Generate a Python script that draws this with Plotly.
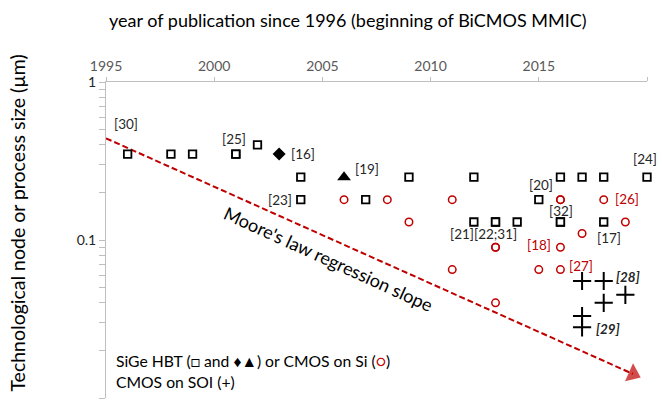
import math
import plotly.graph_objects as go

# ---------------- data ----------------
sq_years = [1996, 1998, 1999, 2001, 2001, 2002, 2004, 2004, 2007, 2009, 2012, 2012,
            2013, 2013, 2014, 2015, 2016, 2016, 2016, 2017, 2018, 2018, 2020]
sq_vals = [0.35, 0.35, 0.35, 0.35, 0.35, 0.40, 0.25, 0.18, 0.18, 0.25, 0.25, 0.13,
           0.13, 0.13, 0.13, 0.18, 0.25, 0.13, 0.13, 0.25, 0.25, 0.13, 0.25]

dia_years = [2003]
dia_vals = [0.35]

tri_years = [2006]
tri_vals = [0.25]

circ_years = [2006, 2008, 2011, 2016, 2016, 2018, 2009, 2019, 2017,
              2013, 2013, 2016, 2011, 2015, 2016, 2013]
circ_vals = [0.18, 0.18, 0.18, 0.18, 0.18, 0.18, 0.13, 0.13, 0.11,
             0.09, 0.09, 0.09, 0.065, 0.065, 0.065, 0.04]

plus_years = [2017, 2018, 2019, 2018, 2017, 2017]
plus_vals = [0.055, 0.055, 0.045, 0.040, 0.033, 0.028]

moore_years = [1995, 2019.35]
moore_vals = [0.44, 0.0142]

# reference labels: (text, anchor year, anchor value, group)
ref_labels = [
    ("[30]", 1996, 0.35, "k"),
    ("[25]", 2001, 0.35, "k"),
    ("[16]", 2003, 0.35, "k"),
    ("[23]", 2004, 0.18, "k"),
    ("[19]", 2006, 0.25, "k"),
    ("[24]", 2020, 0.25, "k"),
    ("[20]", 2015, 0.18, "k"),
    ("[32]", 2016, 0.13, "k"),
    ("[21]", 2012, 0.13, "k"),
    ("[22;31]", 2013, 0.13, "k"),
    ("[17]", 2018, 0.13, "k"),
    ("[26]", 2018, 0.18, "r"),
    ("[18]", 2016, 0.09, "r"),
    ("[27]", 2016, 0.065, "r"),
    ("[28]", 2018, 0.055, "b"),
    ("[29]", 2017, 0.028, "b"),
]

y_tickvals = [m * 10 ** e for e in (-2, -1) for m in range(1, 10)] + [1]
y_ticktext = ["0.01"] + [""] * 8 + ["0.1"] + [""] * 8 + ["1"]
x_tickvals = [1995, 2000, 2005, 2010, 2015, 2020]

# ---------------- styling / positions ----------------
RED = "#C00000"
FONT = "Lato"
label_pos = {  # xanchor, xshift, yshift (px)
    "[30]": ("center", -2, 30),
    "[25]": ("center", -2, 15),
    "[16]": ("left", 10, 0),
    "[23]": ("right", -7, 0),
    "[19]": ("left", 9, 8),
    "[24]": ("center", -2, 18),
    "[20]": ("center", 2, 15),
    "[32]": ("center", 1, 11),
    "[21]": ("center", -12, -12),
    "[22;31]": ("center", 0, -12),
    "[17]": ("center", 5, -16),
    "[26]": ("left", 9, 1),
    "[18]": ("right", -7, 2),
    "[27]": ("left", 7, 4),
    "[28]": ("left", 10, 4),
    "[29]": ("left", 12, -2),
}

fig = go.Figure()

fig.add_trace(go.Scatter(
    x=moore_years, y=moore_vals, mode="lines+markers",
    line=dict(color=RED, width=2, dash="6px,3px"),
    marker=dict(symbol="triangle-up", size=[0, 17], color=RED, angleref="previous",
                line=dict(width=0)),
    cliponaxis=False, hoverinfo="skip"))

fig.add_trace(go.Scatter(
    x=sq_years, y=sq_vals, mode="markers", cliponaxis=False,
    marker=dict(symbol="square", size=7.5, color="white",
                line=dict(color="black", width=1.8))))
fig.add_trace(go.Scatter(
    x=circ_years, y=circ_vals, mode="markers", cliponaxis=False,
    marker=dict(symbol="circle", size=7.5, color="rgba(255,255,255,0)",
                line=dict(color=RED, width=1.5))))
fig.add_trace(go.Scatter(
    x=dia_years, y=dia_vals, mode="markers", cliponaxis=False,
    marker=dict(symbol="diamond", size=10, color="black", line=dict(width=0))))
fig.add_trace(go.Scatter(
    x=tri_years, y=tri_vals, mode="markers", cliponaxis=False,
    marker=dict(symbol="triangle-up", size=12, color="black", line=dict(width=0))))
fig.add_trace(go.Scatter(
    x=plus_years, y=plus_vals, mode="markers", cliponaxis=False,
    marker=dict(symbol="cross-thin", size=13, color="black",
                line=dict(color="black", width=2))))

annotations = []
for text, yr, val, grp in ref_labels:
    xa, dx, dy = label_pos[text]
    if grp == "r":
        t, col = text, RED
    elif grp == "b":
        t, col = "<b><i>" + text + "</i></b>", "#262626"
    else:
        t, col = text, "#262626"
    annotations.append(dict(
        x=yr, y=math.log10(val), xref="x", yref="y", text=t, showarrow=False,
        xanchor=xa, yanchor="middle", xshift=dx, yshift=dy,
        font=dict(family=FONT, size=13.5, color=col)))

# Moore's law text
annotations.append(dict(
    x=2005.3, y=math.log10(0.1), xref="x", yref="y",
    text="Moore's law regression slope", showarrow=False, textangle=24.5,
    xanchor="center", yanchor="middle", yshift=-19,
    font=dict(family=FONT, size=18, color="black")))

# legend-like text
annotations.append(dict(
    x=0.014, y=0.118, xref="paper", yref="paper", xanchor="left", yanchor="middle",
    text="SiGe HBT (□ and ♦▲) or CMOS on Si (<span style='color:%s'>○</span>)" % RED,
    showarrow=False, font=dict(family=FONT, size=15.7, color="black")))
annotations.append(dict(
    x=0.014, y=0.052, xref="paper", yref="paper", xanchor="left", yanchor="middle",
    text="CMOS on SOI (+)",
    showarrow=False, font=dict(family=FONT, size=15.7, color="black")))

# axis titles
annotations.append(dict(
    x=0.447, y=1.196, xref="paper", yref="paper", xanchor="center", yanchor="middle",
    text="year of publication since 1996 (beginning of BiCMOS MMIC)", showarrow=False,
    font=dict(family=FONT, size=18, color="black")))
annotations.append(dict(
    x=-0.164, y=0.553, xref="paper", yref="paper", xanchor="center", yanchor="middle",
    text="Technological node or process size (µm)", showarrow=False, textangle=-90,
    font=dict(family=FONT, size=19.5, color="black")))

fig.update_layout(
    width=662, height=405,
    margin=dict(l=106, r=15, t=82, b=7, pad=0),
    paper_bgcolor="white", plot_bgcolor="white",
    showlegend=False,
    annotations=annotations,
    xaxis=dict(range=[1995, 2020], side="top", tickvals=x_tickvals,
               showgrid=False, zeroline=False, showline=True, linecolor="#BFBFBF",
               linewidth=1, ticks="outside", ticklen=4, tickcolor="#BFBFBF",
               tickfont=dict(family=FONT, size=14, color="#595959")),
    yaxis=dict(type="log", range=[-2, 0], tickvals=y_tickvals, ticktext=y_ticktext,
               showgrid=False, zeroline=False, showline=True, linecolor="#BFBFBF",
               linewidth=1, ticks="outside", ticklen=6, tickcolor="#BFBFBF",
               tickfont=dict(family=FONT, size=14, color="#262626")),
)

fig.write_html("out.html", config={"displayModeBar": False},
               post_script="document.body.style.margin='0';document.body.style.padding='0';")
